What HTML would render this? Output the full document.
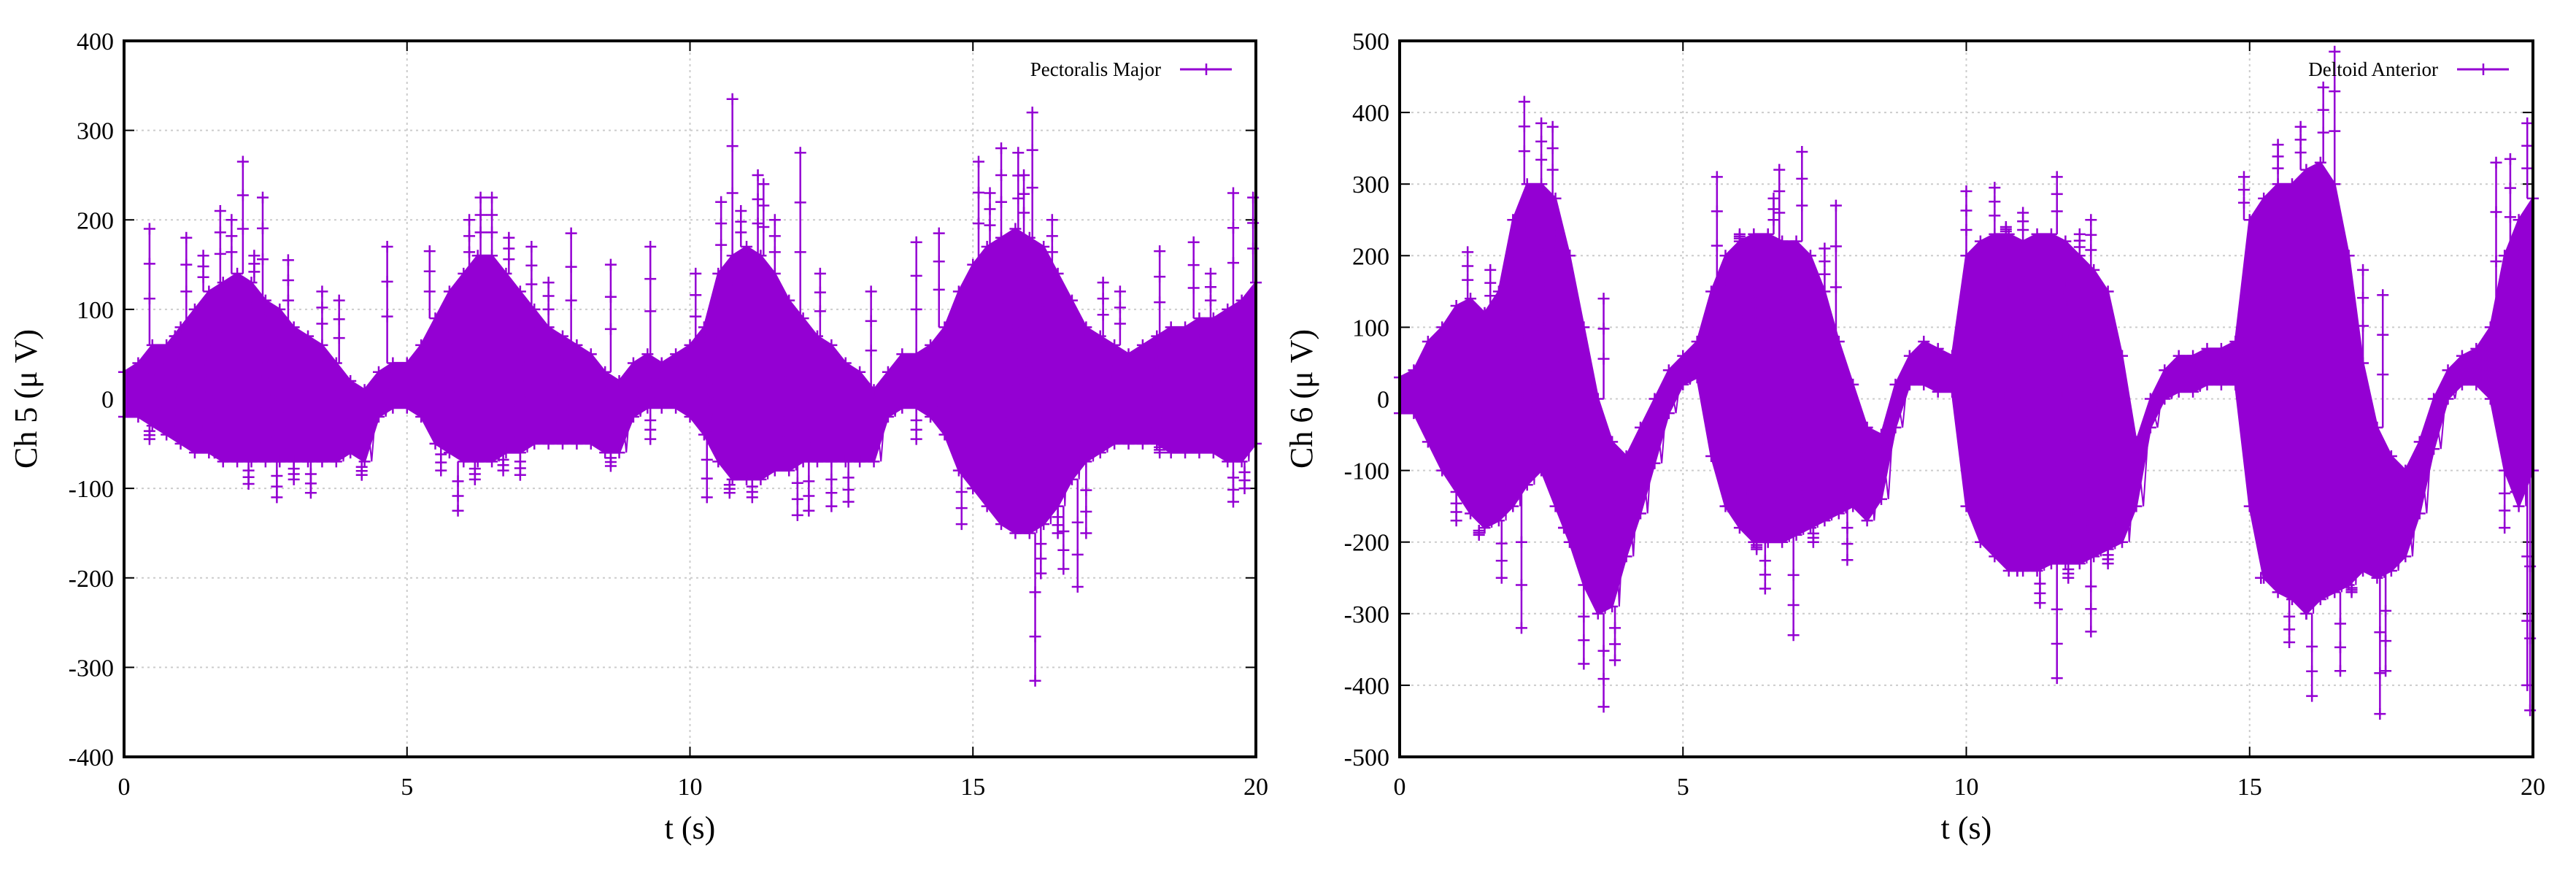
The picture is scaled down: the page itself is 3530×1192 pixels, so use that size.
<!DOCTYPE html>
<html><head><meta charset="utf-8"><style>
html,body{margin:0;padding:0;background:#fff}
svg{display:block;font-family:"Liberation Serif",serif}
</style></head><body>
<svg id="chart" width="3530" height="1192" viewBox="0 0 3530 1192" xmlns="http://www.w3.org/2000/svg"></svg>
<script>
const ch5Hi=[30,40,60,60,80,100,120,130,140,130,110,100,80,70,60,40,20,10,30,40,40,60,90,120,140,160,160,140,120,100,80,70,60,50,30,20,40,50,40,50,60,80,140,160,170,160,140,110,90,70,60,40,30,10,30,50,50,60,80,120,150,170,180,190,180,170,140,110,80,70,60,50,60,70,80,80,90,90,100,110,130];
const ch5Lo=[-20,-20,-30,-40,-50,-60,-60,-70,-70,-70,-70,-70,-70,-70,-70,-70,-60,-70,-20,-10,-10,-20,-50,-60,-70,-70,-70,-60,-60,-50,-50,-50,-50,-50,-60,-60,-20,-10,-10,-10,-20,-40,-70,-90,-90,-90,-80,-80,-70,-70,-70,-70,-70,-70,-20,-10,-10,-20,-40,-80,-100,-120,-140,-150,-150,-140,-120,-90,-70,-60,-50,-50,-50,-50,-60,-60,-60,-60,-70,-70,-50];
const ch5Spikes=[[0.45,190],[0.45,-45],[1.1,180],[1.7,210],[2.1,265],[2.45,225],[2.7,-110],[2.9,155],[3.3,-105],[3.8,110],[4.2,-85],[4.65,170],[5.4,165],[5.9,-125],[6.3,225],[6.5,225],[6.8,180],[7.0,-85],[7.9,185],[8.6,150],[8.6,-75],[9.3,170],[9.3,-45],[10.1,140],[10.3,-110],[10.55,220],[10.75,335],[11.2,250],[11.3,240],[11.9,-130],[11.95,275],[12.5,-120],[13.2,120],[14.0,175],[14.0,-45],[14.4,185],[14.8,-140],[15.1,265],[15.5,280],[15.8,275],[16.05,320],[16.1,-315],[16.2,-195],[16.6,-190],[16.85,-210],[17.3,130],[18.3,165],[18.3,-60],[18.9,175],[19.6,230],[19.6,-115],[19.95,225],
[0.9,70],[1.4,160],[1.6,-60],[1.9,200],[2.2,-95],[2.3,160],[3.0,-90],[3.5,120],[5.6,-80],[6.1,200],[6.2,-90],[6.7,-80],[7.2,170],[7.5,130],[10.7,-105],[10.9,210],[11.1,-110],[11.5,200],[12.1,-125],[12.3,140],[12.8,-115],[15.0,-100],[15.3,230],[15.6,-130],[15.9,250],[16.4,200],[16.5,-150],[17.0,-150],[17.6,120],[19.2,140],[19.8,-100]];
const ch6Hi=[30,40,80,100,130,140,120,150,250,300,300,280,200,100,0,-60,-80,-40,0,40,60,80,150,200,220,230,230,220,220,200,150,80,20,-40,-50,20,60,80,70,60,200,220,230,230,220,230,230,220,200,180,150,60,-60,0,40,60,60,70,70,80,250,280,300,300,320,330,300,200,50,-40,-80,-100,-60,0,40,60,70,100,200,250,280];
const ch6Lo=[-20,-20,-60,-100,-130,-160,-180,-170,-150,-120,-100,-150,-200,-260,-300,-290,-220,-160,-90,-20,20,30,-80,-150,-180,-200,-200,-200,-190,-180,-170,-160,-150,-170,-140,-40,20,20,10,10,-150,-200,-220,-240,-240,-240,-230,-230,-230,-220,-210,-200,-150,-40,0,10,10,20,20,20,-150,-250,-270,-280,-300,-280,-270,-260,-240,-250,-240,-220,-160,-70,0,20,20,0,-100,-150,-100];
const ch6Spikes=[[2.2,415],[2.15,-320],[2.5,385],[2.7,380],[1.8,-250],[1.2,205],[3.25,-370],[3.6,-430],[3.8,-365],[3.6,140],[5.6,310],[6.45,-265],[6.7,320],[6.95,-330],[7.1,345],[7.9,-225],[7.7,270],[10.0,290],[10.5,295],[11.3,-285],[11.6,-390],[11.6,310],[12.2,-325],[12.2,250],[14.9,310],[15.5,355],[15.7,-340],[16.1,-415],[16.3,435],[16.5,485],[16.6,-380],[17.3,-440],[17.35,145],[17.4,-380],[19.35,330],[19.6,335],[19.9,385],[19.95,-435],[19.9,-400],
[1.0,-170],[1.4,-190],[1.6,180],[2.0,-140],[2.9,-180],[3.0,200],[5.8,-150],[6.0,230],[6.3,-210],[6.6,280],[7.3,-200],[7.5,210],[10.2,-140],[10.7,240],[10.9,-240],[11.0,260],[11.8,-250],[12.0,230],[12.5,-230],[15.2,-250],[15.4,270],[15.9,380],[16.0,-300],[16.8,-270],[17.0,180],[19.5,-180],[19.7,-130]];
const xTicks=[0,5,10,15,20];
const ch5YTicks=[-400,-300,-200,-100,0,100,200,300,400];
const ch6YTicks=[-500,-400,-300,-200,-100,0,100,200,300,400,500];
const tStep=0.25;

const NS="http://www.w3.org/2000/svg";
const svg=document.getElementById('chart');
function mk(tag,attrs,parent){const e=document.createElementNS(NS,tag);for(const k in attrs)e.setAttribute(k,attrs[k]);(parent||svg).appendChild(e);return e;}
const PURPLE="#9400d3";

function panel(o){
  const g=mk('g',{});
  
  
  const x=t=>o.x0+(t-0)/(20-0)*(o.x1-o.x0);
  const y=v=>o.y1-(v-o.ymin)/(o.ymax-o.ymin)*(o.y1-o.y0);
  o.yt.forEach(v=>{const l=mk('line',{x1:o.x0,x2:o.x1,y1:y(v),y2:y(v),stroke:'#ccc','stroke-width':2,'stroke-dasharray':'3,5'},g);
    const tl=mk('text',{x:o.x0-14,y:y(v)+12,'text-anchor':'end','font-size':34,fill:'#000'},g);tl.textContent=v;
    mk('line',{x1:o.x0,x2:o.x0+14,y1:y(v),y2:y(v),stroke:'#000','stroke-width':2},g);mk('line',{x1:o.x1,x2:o.x1-14,y1:y(v),y2:y(v),stroke:'#000','stroke-width':2},g);});
  xTicks.forEach(t=>{const l=mk('line',{x1:x(t),x2:x(t),y1:o.y0,y2:o.y1,stroke:'#ccc','stroke-width':2,'stroke-dasharray':'3,5'},g);
    const tl=mk('text',{x:x(t),y:o.y1+52,'text-anchor':'middle','font-size':34,fill:'#000'},g);tl.textContent=t;
    mk('line',{x1:x(t),x2:x(t),y1:o.y1,y2:o.y1-14,stroke:'#000','stroke-width':2},g);mk('line',{x1:x(t),x2:x(t),y1:o.y0,y2:o.y0+14,stroke:'#000','stroke-width':2},g);});
  const sg=mk('g',{},g);
  o.spikes.forEach(s=>{const base=s[1]>0?Math.min(s[1],o.hi[Math.round(s[0]/tStep)]):Math.max(s[1],o.lo[Math.round(s[0]/tStep)]);
    const l=mk('line',{x1:x(s[0]),x2:x(s[0]),y1:y(base),y2:y(s[1]),stroke:PURPLE,'stroke-width':2.5},sg);
    for(let k=0;k<3;k++){const vv=s[1]-(s[1]-base)*k*0.3;const cy=y(vv),cx=x(s[0]);mk('path',{d:`M${cx-8},${cy}h16M${cx},${cy-8}v16`,stroke:PURPLE,'stroke-width':2.5},sg);}});
  let up='',dn='';
  o.hi.forEach((v,i)=>{up+=(i?'L':'M')+x(i*tStep).toFixed(1)+','+y(v).toFixed(1);});
  for(let i=o.lo.length-1;i>=0;i--)dn+='L'+x(i*tStep).toFixed(1)+','+y(o.lo[i]).toFixed(1);
  const band=mk('path',{d:up+dn+'Z',fill:PURPLE,stroke:PURPLE,'stroke-width':3},sg);
  let zz='';o.hi.forEach((v,i)=>{const t=i*tStep;zz+=(i?'L':'M')+x(t)+','+y(o.hi[i])+'L'+x(Math.min(20,t+tStep/2))+','+y(o.lo[i]);});
  const zl=mk('path',{d:zz,fill:'none',stroke:PURPLE,'stroke-width':2},sg);
  o.hi.forEach((v,i)=>{const cx=x(i*tStep);[v,o.lo[i]].forEach(vv=>{const cy=y(vv);mk('path',{d:`M${cx-8},${cy}h16M${cx},${cy-8}v16`,stroke:PURPLE,'stroke-width':2.5},sg);});});
  const fr=mk('rect',{x:o.x0,y:o.y0,width:o.x1-o.x0,height:o.y1-o.y0,fill:'none',stroke:'#000','stroke-width':4},g);
  const xt=mk('text',{x:(o.x0+o.x1)/2,y:o.y1+112,'text-anchor':'middle','font-size':44},g);xt.textContent='t (s)';
  const yx=o.x0-120,yy=(o.y0+o.y1)/2;
  const ytl=mk('text',{x:yx,y:yy,'text-anchor':'middle','font-size':44,transform:`rotate(-90 ${yx} ${yy})`},g);ytl.textContent=o.ytitle;
  const lg=mk('g',{},g);
  const lt=mk('text',{x:o.x1-130,y:104,'text-anchor':'end','font-size':27},lg);lt.textContent=o.series;
  mk('line',{x1:o.x1-104,x2:o.x1-33,y1:95,y2:95,stroke:PURPLE,'stroke-width':3},lg);
  const mx=o.x1-68;mk('path',{d:`M${mx-8},95h16M${mx},87v16`,stroke:PURPLE,'stroke-width':2.5},lg);
}
panel({name:'ch5-panel',series:'Pectoralis Major',x0:170,x1:1721,y0:56,y1:1037,ymin:-400,ymax:400,yt:ch5YTicks,hi:ch5Hi,lo:ch5Lo,spikes:ch5Spikes,ytitle:'Ch 5 (μ V)'});
panel({name:'ch6-panel',series:'Deltoid Anterior',x0:1918,x1:3471,y0:56,y1:1037,ymin:-500,ymax:500,yt:ch6YTicks,hi:ch6Hi,lo:ch6Lo,spikes:ch6Spikes,ytitle:'Ch 6 (μ V)'});
</script>
</body></html>
